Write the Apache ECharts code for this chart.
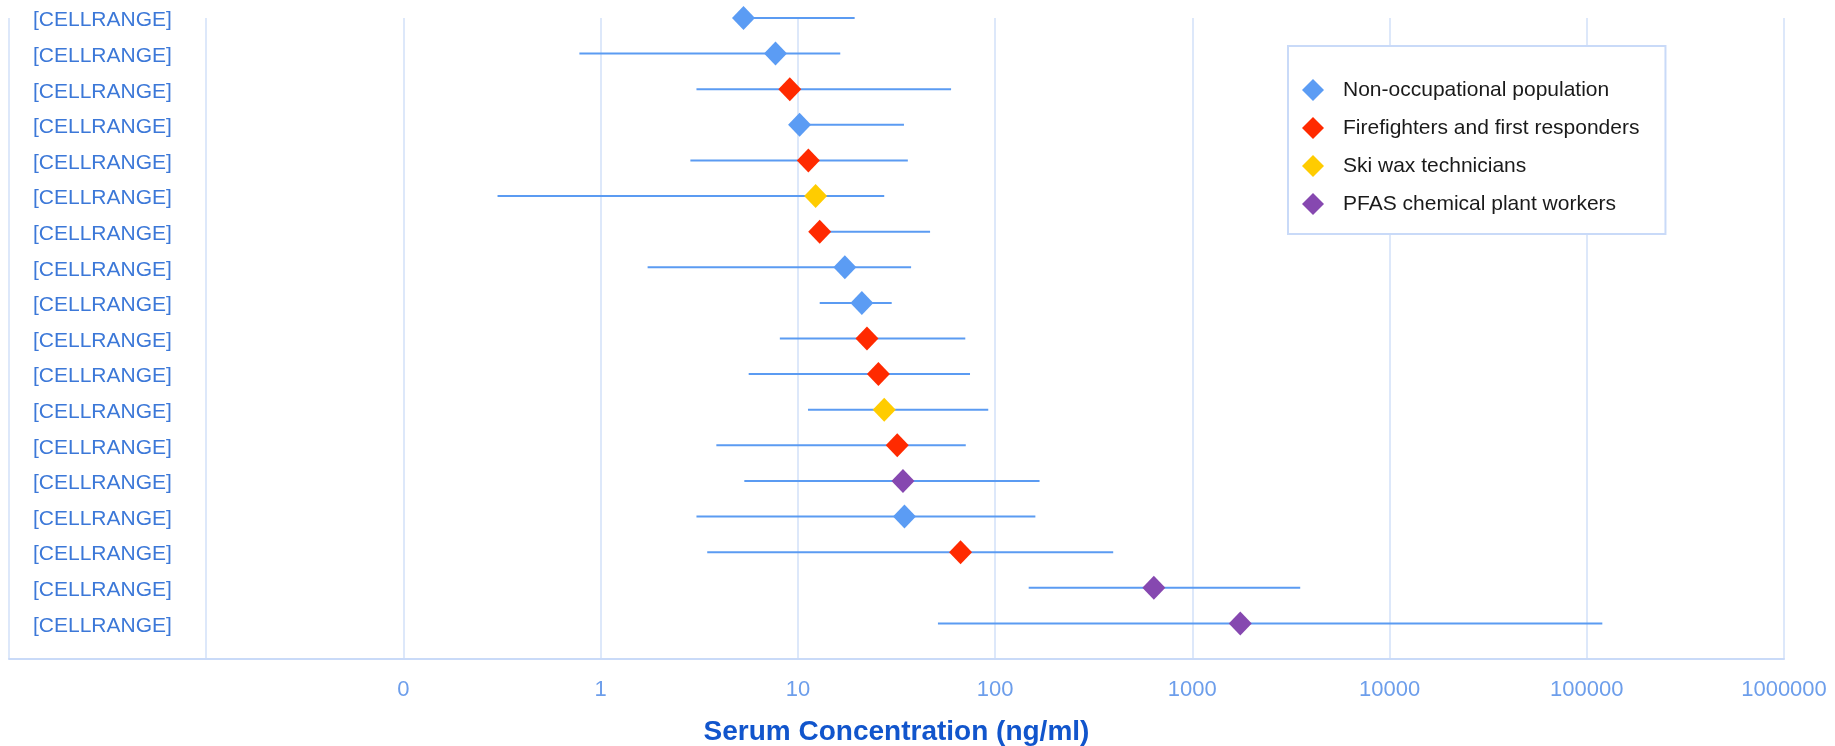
<!DOCTYPE html>
<html>
<head>
<meta charset="utf-8">
<script src="https://cdn.jsdelivr.net/npm/echarts@6/dist/echarts.min.js"></script>
<style>
html,body{margin:0;padding:0;background:#fff;}
#chart{width:1835px;height:746px;}
</style>
</head>
<body>
<div id="chart"></div>
<script>
// Rows listed top to bottom
const categories = ['[CELLRANGE]','[CELLRANGE]','[CELLRANGE]','[CELLRANGE]','[CELLRANGE]','[CELLRANGE]',
  '[CELLRANGE]','[CELLRANGE]','[CELLRANGE]','[CELLRANGE]','[CELLRANGE]','[CELLRANGE]',
  '[CELLRANGE]','[CELLRANGE]','[CELLRANGE]','[CELLRANGE]','[CELLRANGE]','[CELLRANGE]'];
const groupNames = ['Non-occupational population','Firefighters and first responders','Ski wax technicians','PFAS chemical plant workers'];
const rowGroup = [0,0,1,0,1,2,1,0,0,1,1,2,1,3,0,1,3,3];
const medians = [5.3, 7.7, 9.1, 10.2, 11.3, 12.3, 12.9, 17.3, 21.1, 22.4, 25.6, 27.4, 31.9, 34.1, 34.7, 66.8, 638, 1750];
const lows    = [5.0, 0.78, 3.06, 9.8, 2.85, 0.30, 12.5, 1.73, 12.9, 8.1, 5.63, 11.25, 3.86, 5.35, 3.06, 3.47, 148, 51.3];
const highs   = [19.4, 16.4, 59.8, 34.5, 36.1, 27.4, 46.8, 37.5, 29.9, 70.6, 74.6, 92.3, 71.0, 168, 160, 397, 3524, 119900];
const xTickLabels = ['', '', '0', '1', '10', '100', '1000', '10000', '100000', '1000000'];
const groupColors = ['#5b9cf4', '#ff2a00', '#ffcc00', '#8648b0'];

const N = categories.length;
const FONT = '"Liberation Sans", Arial, sans-serif';

const errData = medians.map((m, i) => [N - i, lows[i], highs[i]]);
const scatterSeries = groupNames.map((name, g) => ({
  name: name,
  type: 'scatter',
  symbol: 'diamond',
  symbolSize: [23, 24],
  itemStyle: { color: groupColors[g], opacity: 1 },
  z: 5,
  data: medians.map((m, i) => rowGroup[i] === g ? [m, N - i] : null).filter(d => d)
}));

const chart = echarts.init(document.getElementById('chart'));
chart.setOption({
  animation: false,
  backgroundColor: '#ffffff',
  grid: { left: 9, right: 51, top: 18, bottom: 87, containLabel: false, outerBoundsMode: 'none' },
  xAxis: {
    type: 'log', logBase: 10, min: 0.001, max: 1000000, splitNumber: 9,
    axisLine: { show: true, lineStyle: { color: '#c9daf8', width: 2 } },
    axisTick: { show: false },
    splitLine: { show: true, lineStyle: { color: '#dde8fa', width: 2 } },
    axisLabel: {
      margin: 20, fontSize: 22, color: '#6d9eeb', fontFamily: FONT,
      formatter: v => xTickLabels[Math.round(Math.log10(v)) + 3]
    },
    name: 'Serum Concentration (ng/ml)',
    nameLocation: 'middle', nameGap: 59,
    nameTextStyle: { fontSize: 28, fontWeight: 'bold', color: '#1155cc', fontFamily: FONT }
  },
  yAxis: {
    type: 'value', min: 0, max: N, interval: 1,
    axisLine: { show: false }, axisTick: { show: false }, splitLine: { show: false },
    axisLabel: {
      inside: true, align: 'left', verticalAlign: 'top', lineHeight: 5,
      margin: 24, fontSize: 21, color: '#3c78d8', fontFamily: FONT,
      formatter: v => (v >= 1 && v <= N) ? categories[N - v] : ''
    }
  },
  legend: {
    orient: 'vertical', left: 1288, top: 46,
    padding: [33, 26, 19, 14],
    itemWidth: 22, itemHeight: 22, itemGap: 16,
    borderColor: '#c9daf8', borderWidth: 2, backgroundColor: '#ffffff',
    icon: 'diamond',
    textStyle: { fontSize: 21, color: '#1a1a1a', fontFamily: FONT, padding: [0, 0, 0, 14] },
    data: groupNames
  },
  series: [{
    type: 'custom',
    z: 2,
    data: errData,
    encode: { x: [1, 2], y: 0 },
    renderItem: (params, api) => {
      const y = api.value(0);
      const p1 = api.coord([api.value(1), y]);
      const p2 = api.coord([api.value(2), y]);
      return {
        type: 'line',
        shape: { x1: p1[0], y1: p1[1], x2: p2[0], y2: p2[1] },
        style: { stroke: '#5b9bf2', lineWidth: 2 }
      };
    }
  }].concat(scatterSeries)
});
</script>
</body>
</html>
